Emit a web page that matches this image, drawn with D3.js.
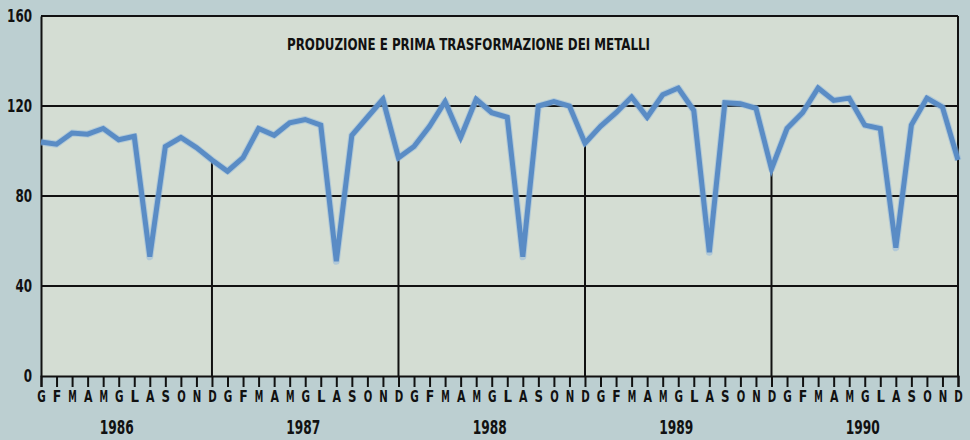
<!DOCTYPE html>
<html><head><meta charset="utf-8">
<script src="https://cdn.jsdelivr.net/npm/d3@7/dist/d3.min.js"></script>
<style>
html,body{margin:0;padding:0;background:#bccfd1;}
svg{display:block;}
text{font-family:"Liberation Sans Narrow","Arial Narrow","DejaVu Sans Condensed",sans-serif;font-weight:bold;fill:#111;}
</style></head>
<body>
<svg id="chart" width="970" height="440"></svg>
<script>
const title = "PRODUZIONE E PRIMA TRASFORMAZIONE DEI METALLI";
const years = ["1986","1987","1988","1989","1990"];
const months = ["G","F","M","A","M","G","L","A","S","O","N","D"];
const yTicks = [0,40,80,120,160];
const values1986 = [104,103,108,107.5,110,105,106.5,53,102,106,101.5,96];
const values1987 = [91,97,110,107,112.5,114,111.5,51,107,115,123,97];
const values1988 = [102,111,122,106,123,117,115,53,120,122,120,103.5];
const values1989 = [111,117,124,115,125,128,118,55,121.5,121,119,92];
const values1990 = [110,117,128,122.5,123.5,111.5,110,57,111.5,123.5,119.5,96];

const series = [].concat(values1986, values1987, values1988, values1989, values1990);
const n = series.length;

const svg = d3.select("#chart");
const x = d3.scaleLinear().domain([0, n - 1]).range([41, 958]);
const y = d3.scaleLinear().domain([0, 160]).range([376, 16]);

// plot background
svg.append("rect").attr("x", x(0)).attr("y", y(160))
  .attr("width", x(n - 1) - x(0)).attr("height", y(0) - y(160))
  .attr("fill", "#d4ddd3");

// horizontal grid lines
svg.selectAll("line.grid").data(yTicks.filter(d => d > 0)).join("line")
  .attr("class", "grid")
  .attr("x1", x(0)).attr("x2", x(n - 1))
  .attr("y1", d => y(d)).attr("y2", d => y(d))
  .attr("stroke", "#111").attr("stroke-width", 2);

// vertical drop lines at each December
const decIdx = d3.range(11, n - 1, 12);
svg.selectAll("line.drop").data(decIdx).join("line")
  .attr("class", "drop")
  .attr("x1", d => x(d)).attr("x2", d => x(d))
  .attr("y1", y(0)).attr("y2", d => y(series[d]))
  .attr("stroke", "#111").attr("stroke-width", 2);

// right frame
svg.append("line").attr("x1", x(n - 1)).attr("x2", x(n - 1))
  .attr("y1", y(160)).attr("y2", y(0))
  .attr("stroke", "#111").attr("stroke-width", 2);

// x axis
const xAxis = d3.axisBottom(x).tickValues(d3.range(n)).tickSize(11).tickFormat(i => months[i % 12]);
const gx = svg.append("g").attr("transform", `translate(0,${y(0)})`).call(xAxis);
gx.select(".domain").attr("stroke", "#111").attr("stroke-width", 2);
gx.selectAll(".tick line").attr("stroke", "#111").attr("stroke-width", 2);
gx.selectAll(".tick text").attr("y", 15).attr("dy", "0.72em")
  .style("font-size", "15px").attr("fill", "#111")
  .attr("textLength", 8.5).attr("lengthAdjust", "spacingAndGlyphs");

// y axis
const yAxis = d3.axisLeft(y).tickValues(yTicks).tickSize(0).tickPadding(9);
const gy = svg.append("g").attr("transform", `translate(${x(0)},0)`).call(yAxis);
gy.select(".domain").attr("stroke", "#111").attr("stroke-width", 2);
gy.selectAll(".tick text").style("font-size", "17px").attr("fill", "#111")
  .attr("textLength", d => String(d).length * 8.3).attr("lengthAdjust", "spacingAndGlyphs");

// year labels
svg.selectAll("text.year").data(years).join("text")
  .attr("class", "year")
  .attr("x", (d, i) => x(i * 12 + 5) - 2)
  .attr("y", 434)
  .attr("text-anchor", "middle")
  .style("font-size", "19px")
  .attr("textLength", 34).attr("lengthAdjust", "spacingAndGlyphs")
  .text(d => d);

// data line
const line = d3.line().x((d, i) => x(i)).y(d => y(d));
svg.append("path").datum(series)
  .attr("d", line)
  .attr("fill", "none")
  .attr("stroke", "#8db6de").attr("stroke-width", 7).attr("stroke-opacity", 0.5)
  .attr("stroke-linejoin", "round");
svg.append("path").datum(series)
  .attr("d", line)
  .attr("fill", "none")
  .attr("stroke", "#5a8cc5").attr("stroke-width", 5)
  .attr("stroke-linejoin", "miter");

// title
svg.append("text")
  .attr("x", 287).attr("y", 50)
  .attr("textLength", 363).attr("lengthAdjust", "spacingAndGlyphs")
  .style("font-size", "16px")
  .text(title);
</script>
</body></html>
